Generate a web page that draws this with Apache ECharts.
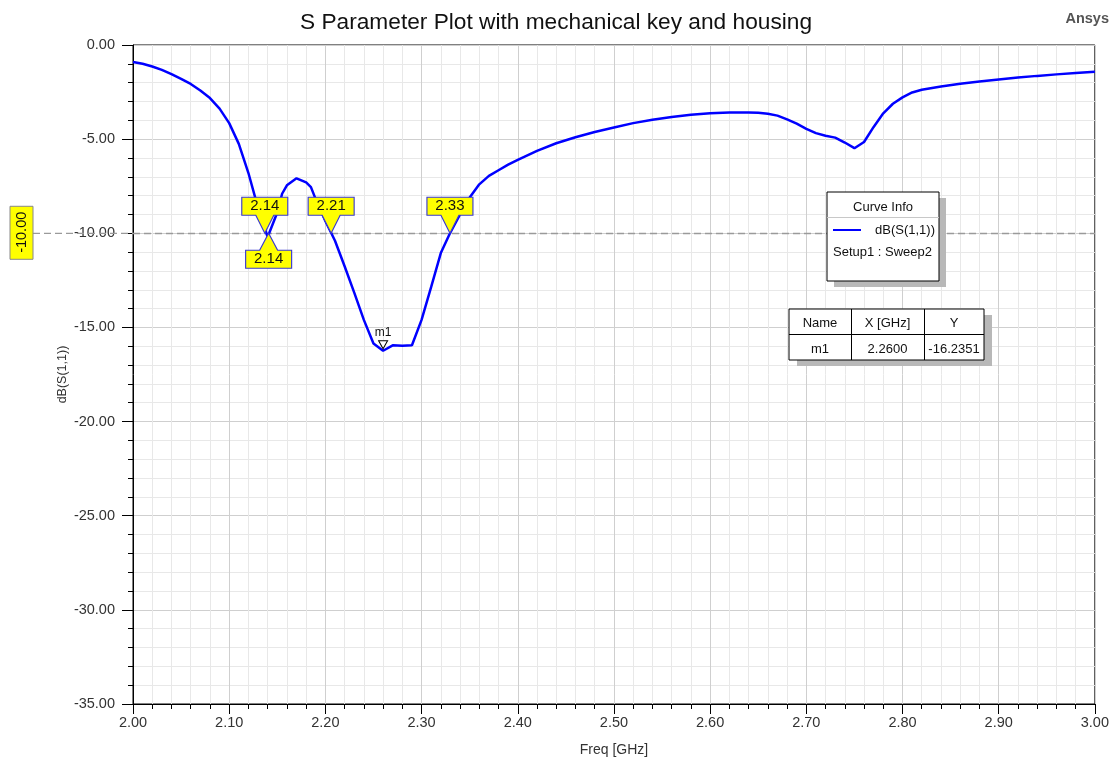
<!DOCTYPE html>
<html>
<head>
<meta charset="utf-8">
<script src="https://cdn.jsdelivr.net/npm/echarts@6/dist/echarts.min.js"></script>
<style>
html,body{margin:0;padding:0;background:#fff;}
#chart{width:1112px;height:763px;}
</style>
</head>
<body>
<div id="chart"></div>
<script>
// ---- data ----
var freq = [2.00,2.01,2.02,2.03,2.04,2.05,2.06,2.07,2.08,2.09,2.10,2.11,2.12,2.13,2.14,2.15,2.155,2.16,2.17,2.18,2.185,2.19,2.20,2.21,2.22,2.23,2.24,2.25,2.26,2.27,2.28,2.29,2.30,2.31,2.32,2.33,2.34,2.35,2.36,2.37,2.38,2.39,2.40,2.42,2.44,2.46,2.48,2.50,2.52,2.54,2.56,2.58,2.60,2.62,2.64,2.65,2.66,2.67,2.68,2.69,2.70,2.71,2.72,2.73,2.74,2.75,2.76,2.77,2.78,2.79,2.80,2.81,2.82,2.84,2.86,2.88,2.90,2.92,2.94,2.96,2.98,3.00];
var s11dB = [-0.90,-1.00,-1.14,-1.32,-1.55,-1.80,-2.07,-2.42,-2.82,-3.38,-4.15,-5.25,-6.80,-8.65,-10.20,-8.90,-7.90,-7.45,-7.08,-7.30,-7.55,-8.20,-9.35,-10.40,-11.75,-13.15,-14.60,-15.85,-16.24,-15.95,-15.97,-15.95,-14.60,-12.85,-11.05,-9.95,-9.00,-8.10,-7.40,-6.95,-6.65,-6.35,-6.10,-5.62,-5.22,-4.90,-4.62,-4.38,-4.15,-3.97,-3.82,-3.70,-3.63,-3.59,-3.58,-3.60,-3.65,-3.75,-3.95,-4.18,-4.45,-4.68,-4.82,-4.92,-5.18,-5.48,-5.15,-4.35,-3.63,-3.12,-2.78,-2.52,-2.38,-2.20,-2.06,-1.94,-1.83,-1.73,-1.64,-1.56,-1.49,-1.42];
var refLevel = -10;
var crossFreq = [2.137, 2.141, 2.206, 2.3295];
var crossLabel = ['2.14', '2.14', '2.21', '2.33'];
var crossBelow = [false, true, false, false];
var m1 = {name: 'm1', x: 2.26, y: -16.2351};
var tableHeader = ['Name', 'X [GHz]', 'Y'];
var tableRow = ['m1', '2.2600', '-16.2351'];
var legendTitle = 'Curve Info';
var legendName = 'dB(S(1,1))';
var legendSub = 'Setup1 : Sweep2';
var titleText = 'S Parameter Plot with mechanical key and housing';

var FONT = '"Liberation Sans", Arial, sans-serif';
var chart = echarts.init(document.getElementById('chart'));

var upPath = 'path://M0,0 L46,0 L46,18 L32,18 L23,36 L14,18 L0,18 Z';
var downPath = 'path://M23,0 L32,17 L46,17 L46,35 L0,35 L0,17 L14,17 Z';

var markData = crossFreq.map(function (f, i) {
  var below = crossBelow[i];
  return {
    coord: [f, refLevel],
    value: crossLabel[i],
    symbol: below ? downPath : upPath,
    symbolSize: below ? [46, 35] : [46, 36],
    symbolOffset: below ? [0, 17.5] : [0, -18],
    itemStyle: {color: '#ffff00', borderColor: '#3a3ad0', borderWidth: 1},
    label: {show: true, formatter: crossLabel[i], position: 'inside', offset: below ? [0, 8.5] : [0, -9],
            color: '#111', fontSize: 15, fontFamily: FONT}
  };
});
markData.push({
  coord: [m1.x, m1.y],
  symbol: 'triangle', symbolRotate: 180, symbolSize: [9, 8], symbolOffset: [0, -6],
  itemStyle: {color: '#ffffff', borderColor: '#000', borderWidth: 1},
  label: {show: true, formatter: m1.name, position: 'top', distance: 2, color: '#111', fontSize: 12, fontFamily: FONT}
});

var option = {
  animation: false,
  backgroundColor: '#ffffff',
  title: [
    {text: titleText, left: 'center', top: 6, textStyle: {fontFamily: FONT, fontSize: 22.7, fontWeight: 'normal', color: '#111'}},
    {text: 'Ansys', right: -2, top: 6, textStyle: {fontFamily: FONT, fontSize: 14.5, fontWeight: 'bold', color: '#555'}}
  ],
  grid: {left: 133, right: 17, top: 45, bottom: 59, show: true, borderColor: '#000', borderWidth: 1, backgroundColor: '#fff'},
  xAxis: {
    type: 'value', min: 2, max: 3, interval: 0.1,
    name: 'Freq [GHz]', nameLocation: 'middle', nameGap: 39, nameMoveOverlap: false,
    nameTextStyle: {fontFamily: FONT, fontSize: 14, color: '#333'},
    axisLine: {onZero: false, lineStyle: {color: '#000', width: 1}},
    axisTick: {show: true, inside: false, length: 10, lineStyle: {color: '#000'}},
    minorTick: {show: true, splitNumber: 5, length: 5, lineStyle: {color: '#000'}},
    axisLabel: {formatter: function (v) { return v.toFixed(2); }, fontFamily: FONT, fontSize: 14.5, color: '#333', margin: 11},
    splitLine: {show: true, lineStyle: {color: '#cfcfcf', width: 1}},
    minorSplitLine: {show: true, lineStyle: {color: '#e8e8e8', width: 1}}
  },
  yAxis: {
    type: 'value', min: -35, max: 0, interval: 5,
    name: 'dB(S(1,1))', nameLocation: 'middle', nameGap: 64, nameRotate: 90, nameMoveOverlap: false,
    nameTextStyle: {fontFamily: FONT, fontSize: 12.5, color: '#333'},
    axisLine: {show: true, onZero: false, lineStyle: {color: '#000', width: 1}},
    axisTick: {show: true, inside: false, length: 11, lineStyle: {color: '#000'}},
    minorTick: {show: true, splitNumber: 5, length: 5, lineStyle: {color: '#000'}},
    axisLabel: {formatter: function (v) { return v.toFixed(2); }, fontFamily: FONT, fontSize: 14.5, color: '#333', margin: 18},
    splitLine: {show: true, lineStyle: {color: '#cfcfcf', width: 1}},
    minorSplitLine: {show: true, lineStyle: {color: '#e8e8e8', width: 1}}
  },
  series: [{
    type: 'line',
    name: legendName,
    data: freq.map(function (f, i) { return [f, s11dB[i]]; }),
    showSymbol: false, symbol: 'none', smooth: false,
    lineStyle: {color: '#0000ff', width: 2.5},
    z: 3,
    markLine: {
      silent: true, symbol: ['none', 'none'],
      label: {show: false},
      lineStyle: {color: '#9a9a9a', type: [7, 4], width: 1.3},
      data: [{yAxis: refLevel}],
      z: 2
    },
    markPoint: {data: markData, z: 5}
  }]
};
chart.setOption(option);

// ---- overlay boxes ----
var p = chart.convertToPixel({gridIndex: 0}, [2, refLevel]);
var yRef = p[1];
var gfx = [];
gfx.push({type: 'line', shape: {x1: 33, y1: yRef, x2: 133, y2: yRef}, style: {stroke: '#9a9a9a', lineWidth: 1.3, lineDash: [7, 4]}, z: 1});
gfx.push({type: 'rect', shape: {x: 10, y: yRef - 27, width: 23, height: 53}, style: {fill: '#ffff00', stroke: '#888', lineWidth: 1}, z: 10});
gfx.push({type: 'text', x: 21.5, y: yRef - 1, rotation: Math.PI / 2,
  style: {text: refLevel.toFixed(2), fill: '#111', font: '14.5px ' + FONT, align: 'center', verticalAlign: 'middle'}, z: 11});

// Curve Info legend
var L = {x: 827, y: 192, w: 112, h: 89};
gfx.push({type: 'rect', shape: {x: L.x + 7, y: L.y + 6, width: L.w, height: L.h}, style: {fill: '#b8b8b8'}, z: 10});
gfx.push({type: 'rect', shape: {x: L.x, y: L.y, width: L.w, height: L.h}, style: {fill: '#fff', stroke: '#000', lineWidth: 1}, z: 11});
gfx.push({type: 'line', shape: {x1: L.x, y1: L.y + 25.5, x2: L.x + L.w, y2: L.y + 25.5}, style: {stroke: '#c8c8c8', lineWidth: 1}, z: 12});
gfx.push({type: 'text', x: L.x + L.w / 2, y: L.y + 15, style: {text: legendTitle, fill: '#111', font: '13px ' + FONT, align: 'center', verticalAlign: 'middle'}, z: 12});
gfx.push({type: 'line', shape: {x1: L.x + 6, y1: L.y + 38, x2: L.x + 34, y2: L.y + 38}, style: {stroke: '#0000ff', lineWidth: 2}, z: 12});
gfx.push({type: 'text', x: L.x + 108, y: L.y + 38, style: {text: legendName, fill: '#111', font: '13px ' + FONT, align: 'right', verticalAlign: 'middle'}, z: 12});
gfx.push({type: 'text', x: L.x + 6, y: L.y + 60, style: {text: legendSub, fill: '#111', font: '13px ' + FONT, align: 'left', verticalAlign: 'middle'}, z: 12});

// Marker table
var T = {x: 789, y: 309, w: 195, h: 51};
var colX = [789, 851, 924, 984];
gfx.push({type: 'rect', shape: {x: T.x + 8, y: T.y + 6, width: T.w, height: T.h}, style: {fill: '#b8b8b8'}, z: 10});
gfx.push({type: 'rect', shape: {x: T.x, y: T.y, width: T.w, height: T.h}, style: {fill: '#fff', stroke: '#000', lineWidth: 1}, z: 11});
gfx.push({type: 'line', shape: {x1: T.x, y1: T.y + 25.5, x2: T.x + T.w, y2: T.y + 25.5}, style: {stroke: '#000', lineWidth: 1}, z: 12});
for (var c = 1; c < 3; c++) {
  gfx.push({type: 'line', shape: {x1: colX[c] + 0.5, y1: T.y, x2: colX[c] + 0.5, y2: T.y + T.h}, style: {stroke: '#000', lineWidth: 1}, z: 12});
}
for (var c2 = 0; c2 < 3; c2++) {
  var cx = (colX[c2] + colX[c2 + 1]) / 2;
  gfx.push({type: 'text', x: cx, y: T.y + 14, style: {text: tableHeader[c2], fill: '#111', font: '13px ' + FONT, align: 'center', verticalAlign: 'middle'}, z: 12});
  gfx.push({type: 'text', x: cx, y: T.y + 40, style: {text: tableRow[c2], fill: '#111', font: '13px ' + FONT, align: 'center', verticalAlign: 'middle'}, z: 12});
}
chart.setOption({graphic: gfx});
</script>
</body>
</html>
